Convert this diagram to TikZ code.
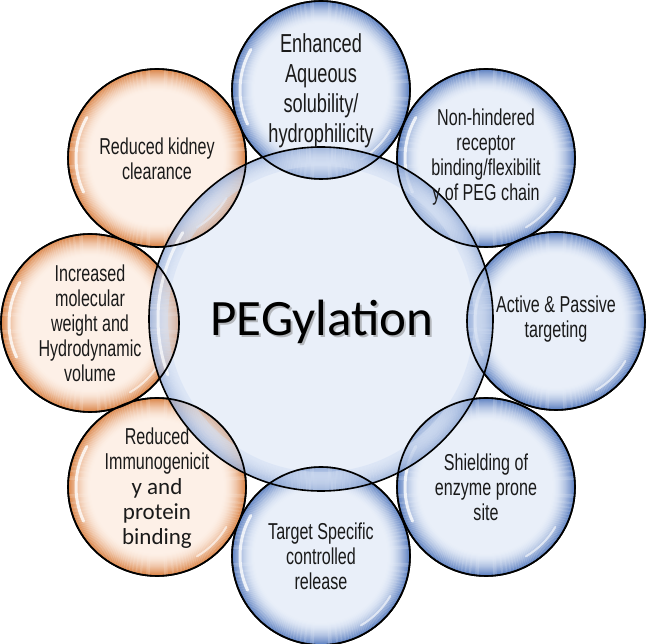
\documentclass[tikz,border=0pt]{standalone}
\usepackage{fontspec}
\newfontfamily\agency{Liberation Sans}[FakeStretch=0.70]
\newfontfamily\calib{Carlito}
\definecolor{bin}{HTML}{E9EFF9}
\definecolor{bout}{HTML}{5A7EC0}
\definecolor{cfill}{HTML}{D3DFF3}
\definecolor{oin}{HTML}{FDF0E7}
\definecolor{oout}{HTML}{DA8244}
\definecolor{txt}{HTML}{1A1A1A}
\begin{document}
\begin{tikzpicture}[x=1pt,y=-1pt,
  rims/.style n args={4}{path picture={
      \foreach \k in {0,...,#4}{
        \pgfmathtruncatemacro\p{#3*(1-\k/(#4+1))^1.7}
        \pgfmathsetmacro\rr{#1-\k}
        \draw[#2, line width=1.1pt] (path picture bounding box.center) circle[radius=\rr pt];
        \draw[#2!\p!white, line width=1.1pt] (path picture bounding box.center) circle[radius=\rr pt];
      }
      \draw[white, line width=3pt, draw opacity=.8, line cap=round]
        ([shift={(150:#1pt-7pt)}]path picture bounding box.center) arc[start angle=150, end angle=205, radius=#1pt-7pt];
      \draw[white, line width=2pt, draw opacity=.6, line cap=round]
        ([shift={(300:#1pt-8pt)}]path picture bounding box.center) arc[start angle=300, end angle=330, radius=#1pt-8pt];
    }},
  bub/.style={circle, draw=black, line width=1.6pt, inner sep=0pt, minimum size=178pt},
  bluebubble/.style={bub, fill=bin, path picture={
      \foreach \k in {0,...,22}{
        \pgfmathtruncatemacro\p{100*(1-\k/23)^1.8}
        \pgfmathsetmacro\rr{88.5-\k}
        \draw[bout!\p!bin, line width=1.1pt] (path picture bounding box.center) circle[radius=\rr pt];
      }
      \draw[white, line width=3pt, draw opacity=.8, line cap=round]
        ([shift={(150:81pt)}]path picture bounding box.center) arc[start angle=150, end angle=205, radius=81pt];
      \draw[white, line width=2pt, draw opacity=.6, line cap=round]
        ([shift={(300:80pt)}]path picture bounding box.center) arc[start angle=300, end angle=330, radius=80pt];
    }},
  orangebubble/.style={bub, fill=oin, path picture={
      \foreach \k in {0,...,22}{
        \pgfmathtruncatemacro\p{100*(1-\k/23)^1.8}
        \pgfmathsetmacro\rr{88.5-\k}
        \draw[oout!\p!oin, line width=1.1pt] (path picture bounding box.center) circle[radius=\rr pt];
      }
      \draw[white, line width=3pt, draw opacity=.8, line cap=round]
        ([shift={(150:81pt)}]path picture bounding box.center) arc[start angle=150, end angle=205, radius=81pt];
      \draw[white, line width=2pt, draw opacity=.6, line cap=round]
        ([shift={(300:80pt)}]path picture bounding box.center) arc[start angle=300, end angle=330, radius=80pt];
    }},
  centrebubble/.style={circle, draw=black, line width=1.6pt, inner sep=0pt, minimum size=344pt,
    fill=cfill, fill opacity=0.5,
    path picture={
      \foreach \k in {0,...,18}{
        \pgfmathtruncatemacro\p{80*(1-\k/19)^1.8}
        \pgfmathsetmacro\rr{171.5-\k}
        \draw[bout!\p!cfill, line width=1.1pt, draw opacity=.5] (path picture bounding box.center) circle[radius=\rr pt];
      }
      \draw[white, line width=3pt, draw opacity=.7, line cap=round]
        ([shift={(148:163pt)}]path picture bounding box.center) arc[start angle=148, end angle=200, radius=163pt];
    }},
  edge/.style={draw=black, line width=1.6pt},
  lbl/.style={align=center, text=txt, font=\agency\fontsize{23}{25}\selectfont},
  biglbl/.style={align=center, text=txt, font=\agency\fontsize{26}{30}\selectfont}
]
\useasboundingbox (0,0) rectangle (646,644);
% outer bubbles
\node[bluebubble] (c1) at (321,90) {};
\node[bluebubble] (c2) at (486,158) {};
\node[bluebubble] (c3) at (556,321) {};
\node[bluebubble] (c4) at (486,487) {};
\node[bluebubble] (c5) at (321,556) {};
\node[orangebubble] (c6) at (157,487) {};
\node[orangebubble] (c7) at (90,323) {};
\node[orangebubble] (c8) at (157,158) {};
% central bubble (translucent)
\node[centrebubble] (pc) at (321,319) {};
% outer outlines kept crisp through the centre
\foreach \n in {c1,c2,c3,c4,c5,c6,c7,c8}
  \path[edge] (\n.center) circle[radius=89pt];
% labels
\node[biglbl] (t1) at ([yshift=-1pt]c1) {Enhanced\\Aqueous\\solubility/\\hydrophilicity};
\node[lbl] (t2) at ([yshift=1pt]c2) {Non-hindered\\receptor\\binding/flexibilit\\y of PEG chain};
\node[lbl] (t3) at ([yshift=2pt]c3) {Active \& Passive\\targeting};
\node[lbl] (t4) at (c4) {Shielding of\\enzyme prone\\site};
\node[lbl] (t5) at (c5) {Target Specific\\controlled\\release};
\node[lbl] (t6) at ([yshift=-1pt]c6) {Reduced\\Immunogenicit\\{\calib\fontsize{23}{26}\selectfont y and}\\{\calib\fontsize{23}{26}\selectfont protein}\\{\calib\fontsize{23}{26}\selectfont binding}};
\node[lbl] (t7) at (c7) {Increased\\molecular\\weight and\\Hydrodynamic\\volume};
\node[lbl] (t8) at ([yshift=-1pt]c8) {Reduced kidney\\clearance};
% centre title with shadow
\node[anchor=base, text=black!50, opacity=0.5, font=\calib\fontsize{51}{60}\selectfont] (ts) at (324,338) {PEGylation};
\node[anchor=base, text=black, font=\calib\fontsize{51}{60}\selectfont] (tc) at (322,336) {PEGylation};
\end{tikzpicture}
\end{document}
